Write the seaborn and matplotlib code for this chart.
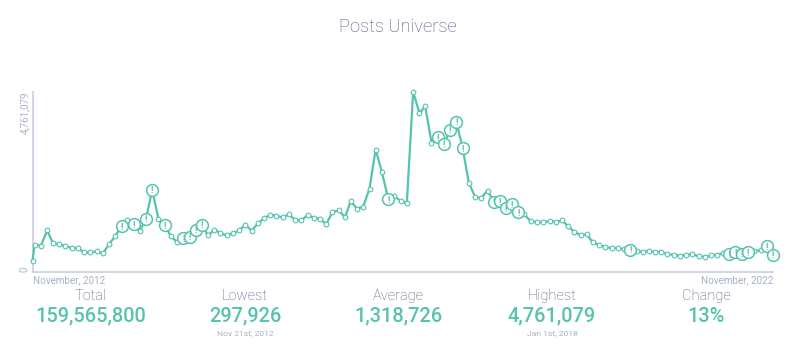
import pandas as pd
import matplotlib
matplotlib.use("Agg")
import matplotlib.pyplot as plt
import seaborn as sns

# colours
TEAL = "#55c3ad"
SLATE = "#4f5880"
PALE = "#a9b0c9"
AXIS = "#c8cde0"

# data
first_date = "2012-11-21"
month_start = "2012-12-01"
posts = [298, 713, 695, 1099, 765, 730, 686, 634, 634, 518, 518, 545, 491, 730, 950,
         1205, 1363, 1257, 1082, 1408, 2173, 1400, 1241, 940, 792, 887, 932, 1117, 1249, 967,
         1117, 1030, 967, 1019, 1099, 1249, 1091, 1283, 1426, 1513,
         1487, 1442, 1521, 1381, 1363, 1505, 1434, 1408, 1268, 1585,
         1627, 1452, 1875, 1672, 1732, 2208, 3238, 2641, 1928, 2007,
         1875, 1822, 4761, 4207, 4384, 3423, 3565, 3388, 3766, 3969,
         3275, 2358, 1989, 1954, 2155, 1857, 1875, 1690, 1796, 1574,
         1521, 1336, 1328,
         1320, 1347, 1328, 1363, 1204, 1064, 977, 993, 782, 713,
         660, 634, 634, 597, 589, 562, 528, 562, 528, 536,
         465, 457, 430, 457, 475, 412, 404, 438, 457, 502,
         465, 518, 483, 518, 544, 581, 687, 457]
flagged = [15, 17, 19, 20, 22, 25, 26, 27, 28, 58, 66, 67, 68, 69, 70,
           75, 76, 77, 78, 79, 97, 113, 114, 115, 116, 119, 120]

stat_names = ["Total", "Lowest", "Average", "Highest", "Change"]
stat_values = ["159,565,800", "297,926", "1,318,726", "4,761,079", "13%"]
stat_notes = ["", "Nov 21st, 2012", "", "Jan 1st, 2018", ""]
stat_x = [91, 245, 398, 552, 706]

y_max = 4761079

dates = [pd.Timestamp(first_date)] + list(pd.date_range(month_start, periods=120, freq="MS"))
df = pd.DataFrame({"date": dates, "posts": [p * 1000 for p in posts]})
df.loc[df["posts"].idxmax(), "posts"] = y_max
flags = df.iloc[flagged]

sns.set_style("white")
plt.rcParams["font.family"] = ["Roboto", "DejaVu Sans"]

W, H = 800, 361
fig = plt.figure(figsize=(W / 100, H / 100), dpi=100)
ax = fig.add_axes([32.5 / W, 1 - 272 / H, 740.5 / W, 180 / H])

sns.lineplot(data=df, x="date", y="posts", ax=ax, color=TEAL, linewidth=1.6,
             marker="o", markersize=3.4, markerfacecolor="white",
             markeredgecolor=TEAL, markeredgewidth=0.8, clip_on=False, zorder=3)
sns.scatterplot(data=flags, x="date", y="posts", ax=ax, s=72, color="white",
                edgecolor=TEAL, linewidth=1.1, clip_on=False, zorder=4)
for _, row in flags.iterrows():
    ax.text(row["date"], row["posts"], "!", color=TEAL, fontsize=6.5, fontweight="bold",
            ha="center", va="center_baseline", zorder=5)

# axes
ax.set_xlim(df["date"].iloc[0], df["date"].iloc[-1])
ax.set_ylim(0, y_max)
ax.set_xlabel("")
ax.set_ylabel("")
sns.despine(ax=ax)
for side in ["left", "bottom"]:
    ax.spines[side].set_color(AXIS)
    ax.spines[side].set_linewidth(1.2)

ax.set_yticks([0, y_max])
ax.set_yticklabels(["0", "4,761,079"], rotation=90, color=PALE, fontsize=7)
ax.get_yticklabels()[0].set_va("bottom")
ax.get_yticklabels()[1].set_va("top")
ax.set_xticks([df["date"].iloc[0], df["date"].iloc[-1]])
ax.set_xticklabels(["November, 2012", "November, 2022"], color=PALE, fontsize=7.1)
ax.get_xticklabels()[0].set_ha("left")
ax.get_xticklabels()[1].set_ha("right")
ax.tick_params(axis="both", length=0, pad=2)

# title and stats
fig.text(398 / W, 1 - 27 / H, "Posts Universe", color=SLATE, fontsize=13.2, fontweight="light",
         ha="center", va="center")
for x, name, value, note in zip(stat_x, stat_names, stat_values, stat_notes):
    fig.text(x / W, 1 - 296 / H, name, color=SLATE, fontsize=10.5, fontweight="light",
             ha="center", va="center")
    fig.text(x / W, 1 - 316 / H, value, color=TEAL, fontsize=14.4, fontweight="medium",
             ha="center", va="center")
    if note:
        fig.text(x / W, 1 - 333 / H, note, color=PALE, fontsize=6.1, ha="center", va="center")

fig.savefig("out.png", dpi=100)
